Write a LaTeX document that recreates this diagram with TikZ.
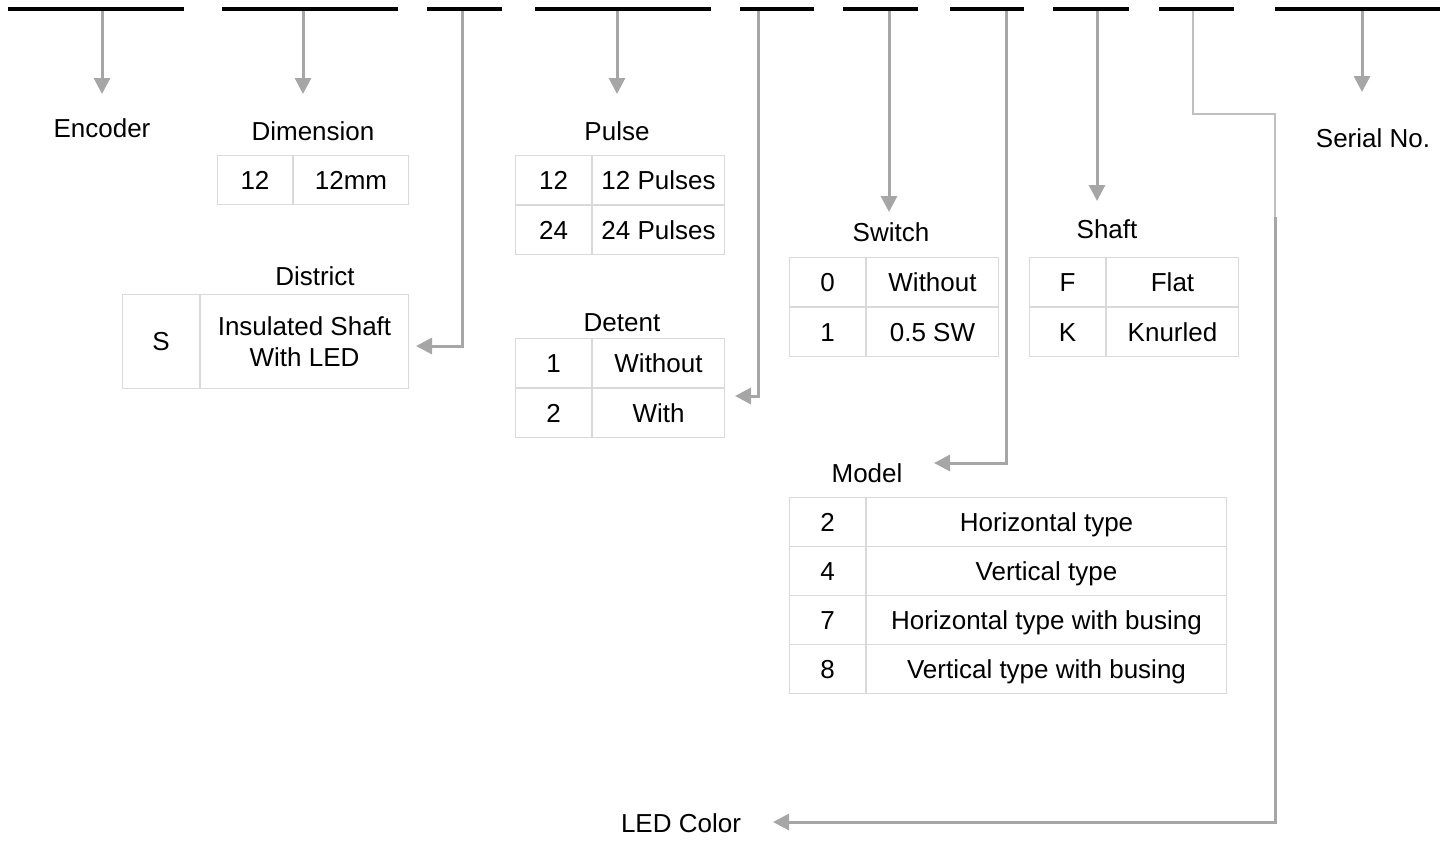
\documentclass[tikz,border=0pt]{standalone}
\usepackage{fontspec}
\setmainfont{Liberation Sans}
\usepackage{tikz}
\usetikzlibrary{arrows.meta,positioning}
\definecolor{arrgray}{RGB}{166,166,166}
\definecolor{linegray}{RGB}{191,191,191}
\definecolor{cellgray}{RGB}{217,217,217}
\newcommand{\bigfont}{\fontsize{26}{31}\selectfont}

\begin{document}
\begin{tikzpicture}[x=1pt, y=-1pt,
  bar/.style={fill=black, inner sep=0pt, minimum height=4.5pt},
  arr/.style={draw=arrgray, line width=3pt, -{Triangle[length=16pt,width=16pt]}},
  thinline/.style={draw=linegray, line width=1.5pt},
  lbl/.style={font=\bigfont, text height=18.7pt, text depth=0pt, inner sep=0pt},
  cellbase/.style={draw=cellgray, line width=1pt, inner sep=0pt, font=\bigfont, anchor=north west},
  cell/.style={cellbase, text height=18.7pt, text depth=0pt}]
\useasboundingbox (0,0) rectangle (1450,843);
% code bars
\foreach \a/\b [count=\i] in {8/184,222/398,427/502,535/711,740/814,843/918,950/1024,1053/1129,1159/1234,1275/1440}
  \node[bar, minimum width={(\b-\a)*1pt}] (b\i) at ({(\a+\b)/2},9) {};
% arrow ends
\coordinate (t1) at (102,94);
\coordinate (t2) at (303,94);
\coordinate (t4) at (617,94);
\coordinate (t6) at (889,212);
\coordinate (t8) at (1097,201);
\coordinate (t10) at (1362,92);
\coordinate (k3) at (462,346);
\coordinate (t3) at (416,346);
\coordinate (k5) at (758,396);
\coordinate (t5) at (735,396);
\coordinate (k7) at (1006,463);
\coordinate (t7) at (934,463);
\coordinate (k9a) at (1193,114);
\coordinate (k9b) at (1275,114);
\coordinate (k9c) at (1275,217);
\coordinate (t9) at (773,822);
% straight arrows
\foreach \i in {1,2,4,6,8,10}
  \draw[arr] (b\i.south -| t\i) -- (t\i);
% bent arrows
\draw[arr] (b3.south -| k3) -- (k3) -- (t3);
\draw[arr] (b5.south -| k5) -- (k5) -- (t5);
\draw[arr] (b7.south -| k7) -- (k7) -- (t7);
\draw[thinline] (b9.south -| k9a) -- (k9a) -- (k9b) -- (k9c);
\draw[arr] (k9c) |- (t9);
% labels
\node[lbl] (enc) at (102,128) {Encoder};
\node[lbl] (dimlbl) at (313,131) {Dimension};
\node[lbl] (dislbl) at (315,276) {District};
\node[lbl] (pullbl) at (617,131) {Pulse};
\node[lbl] (detlbl) at (622,322) {Detent};
\node[lbl] (swlbl) at (891,232) {Switch};
\node[lbl] (shlbl) at (1107,229) {Shaft};
\node[lbl] (modlbl) at (867,473) {Model};
\node[lbl] (serlbl) at (1373,138) {Serial No.};
\node[lbl] (ledlbl) at (681,823) {LED Color};
% dimension
\node[cell, minimum width=75pt, minimum height=49pt] (dim1) at (217,155) {12};
\node[cell, minimum width=115pt, minimum height=49pt, right=0pt of dim1] (dim2) {12mm};
% district
\node[cell, minimum width=77pt, minimum height=94pt] (dis1) at (122,294) {S};
\node[cellbase, minimum width=208pt, minimum height=94pt, align=center, right=0pt of dis1] (dis2) {Insulated Shaft\\With LED};
% pulse
\node[cell, minimum width=76pt, minimum height=49pt] (pul11) at (515,155) {12};
\node[cell, minimum width=132pt, minimum height=49pt, right=0pt of pul11] (pul12) {12 Pulses};
\node[cell, minimum width=76pt, minimum height=49pt, below=0pt of pul11] (pul21) {24};
\node[cell, minimum width=132pt, minimum height=49pt, right=0pt of pul21] (pul22) {24 Pulses};
% detent
\node[cell, minimum width=76pt, minimum height=49pt] (det11) at (515,338) {1};
\node[cell, minimum width=132pt, minimum height=49pt, right=0pt of det11] (det12) {Without};
\node[cell, minimum width=76pt, minimum height=49pt, below=0pt of det11] (det21) {2};
\node[cell, minimum width=132pt, minimum height=49pt, right=0pt of det21] (det22) {With};
% switch
\node[cell, minimum width=76pt, minimum height=49pt] (sw11) at (789,257) {0};
\node[cell, minimum width=132pt, minimum height=49pt, right=0pt of sw11] (sw12) {Without};
\node[cell, minimum width=76pt, minimum height=49pt, below=0pt of sw11] (sw21) {1};
\node[cell, minimum width=132pt, minimum height=49pt, right=0pt of sw21] (sw22) {0.5 SW};
% shaft
\node[cell, minimum width=76pt, minimum height=49pt] (sh11) at (1029,257) {F};
\node[cell, minimum width=132pt, minimum height=49pt, right=0pt of sh11] (sh12) {Flat};
\node[cell, minimum width=76pt, minimum height=49pt, below=0pt of sh11] (sh21) {K};
\node[cell, minimum width=132pt, minimum height=49pt, right=0pt of sh21] (sh22) {Knurled};
% model
\foreach \c/\t [count=\r] in {2/Horizontal type,4/Vertical type,7/Horizontal type with busing,8/Vertical type with busing} {
  \node[cell, minimum width=76pt, minimum height=49pt] (mod\r1) at (789,{448+49*\r}) {\c};
  \node[cell, minimum width=360pt, minimum height=49pt, right=0pt of mod\r1] (mod\r2) {\t};
}
\end{tikzpicture}
\end{document}
